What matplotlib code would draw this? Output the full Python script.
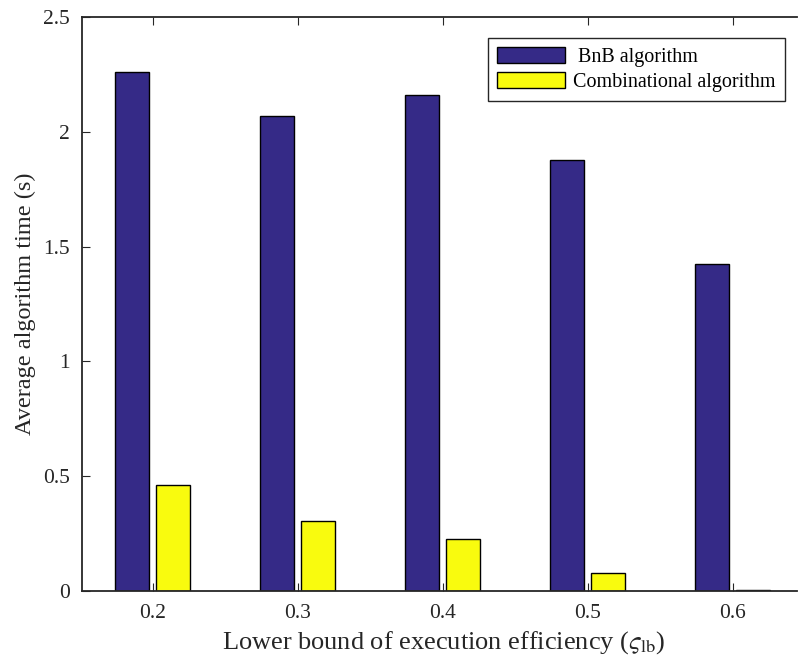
import numpy as np
import matplotlib
matplotlib.use('Agg')
import matplotlib.pyplot as plt

# lower bound of execution efficiency
efficiency = [0.2, 0.3, 0.4, 0.5, 0.6]
tick_labels = ['0.2', '0.3', '0.4', '0.5', '0.6']
# average run time in seconds
bnb_time = [2.26, 2.07, 2.16, 1.877, 1.424]
comb_time = [0.462, 0.305, 0.228, 0.078, 0.004]

plt.rcParams['font.family'] = ['Liberation Serif', 'DejaVu Serif']
plt.rcParams['mathtext.fontset'] = 'stix'

fig = plt.figure(figsize=(7.99, 6.65), dpi=100)
ax = fig.add_axes([82 / 799, 74 / 665, 715 / 799, 574 / 665])

x = np.array(efficiency)
width = 0.0234
offset = 0.0141
ax.bar(x - offset, bnb_time, width, color='#352a87', edgecolor='black',
       linewidth=1.0, label=' BnB algorithm', zorder=2)
ax.bar(x + offset, comb_time, width, color='#f9fb0e', edgecolor='black',
       linewidth=1.0, label='Combinational algorithm', zorder=2)

ax.set_xlim(0.1511, 0.6442)
ax.set_ylim(0, 2.5)
ax.set_xticks(efficiency)
ax.set_xticklabels(tick_labels)
ax.set_yticks([0, 0.5, 1, 1.5, 2, 2.5])
ax.set_yticklabels(['0', '0.5', '1', '1.5', '2', '2.5'])

ax.tick_params(axis='both', direction='in', length=6, width=0.8,
               labelsize=15.5, color='#262626', labelcolor='#262626')
ax.tick_params(axis='x', top=True, pad=9)
ax.tick_params(axis='y', pad=9)

for side in ['left', 'bottom', 'top']:
    ax.spines[side].set_linewidth(1.3)
    ax.spines[side].set_color('#262626')
ax.spines['right'].set_visible(False)

ax.set_xlabel(r'Lower bound of execution efficiency ($\varsigma_{\mathrm{lb}}$)',
              fontsize=19, color='#262626', labelpad=5)
ax.xaxis.label.set_x(0.506)
ax.set_ylabel('Average algorithm time (s)', fontsize=17.5, color='#262626',
              labelpad=5)

leg = ax.legend(loc='upper right', bbox_to_anchor=(0.983, 0.963),
                borderaxespad=0, fontsize=14.5, fancybox=False,
                edgecolor='#262626', framealpha=1, handlelength=3.4,
                handleheight=0.85, handletextpad=0.4, labelspacing=0.25,
                borderpad=0.45)
leg.get_frame().set_linewidth(1.0)

fig.savefig('out.png', dpi=100)
